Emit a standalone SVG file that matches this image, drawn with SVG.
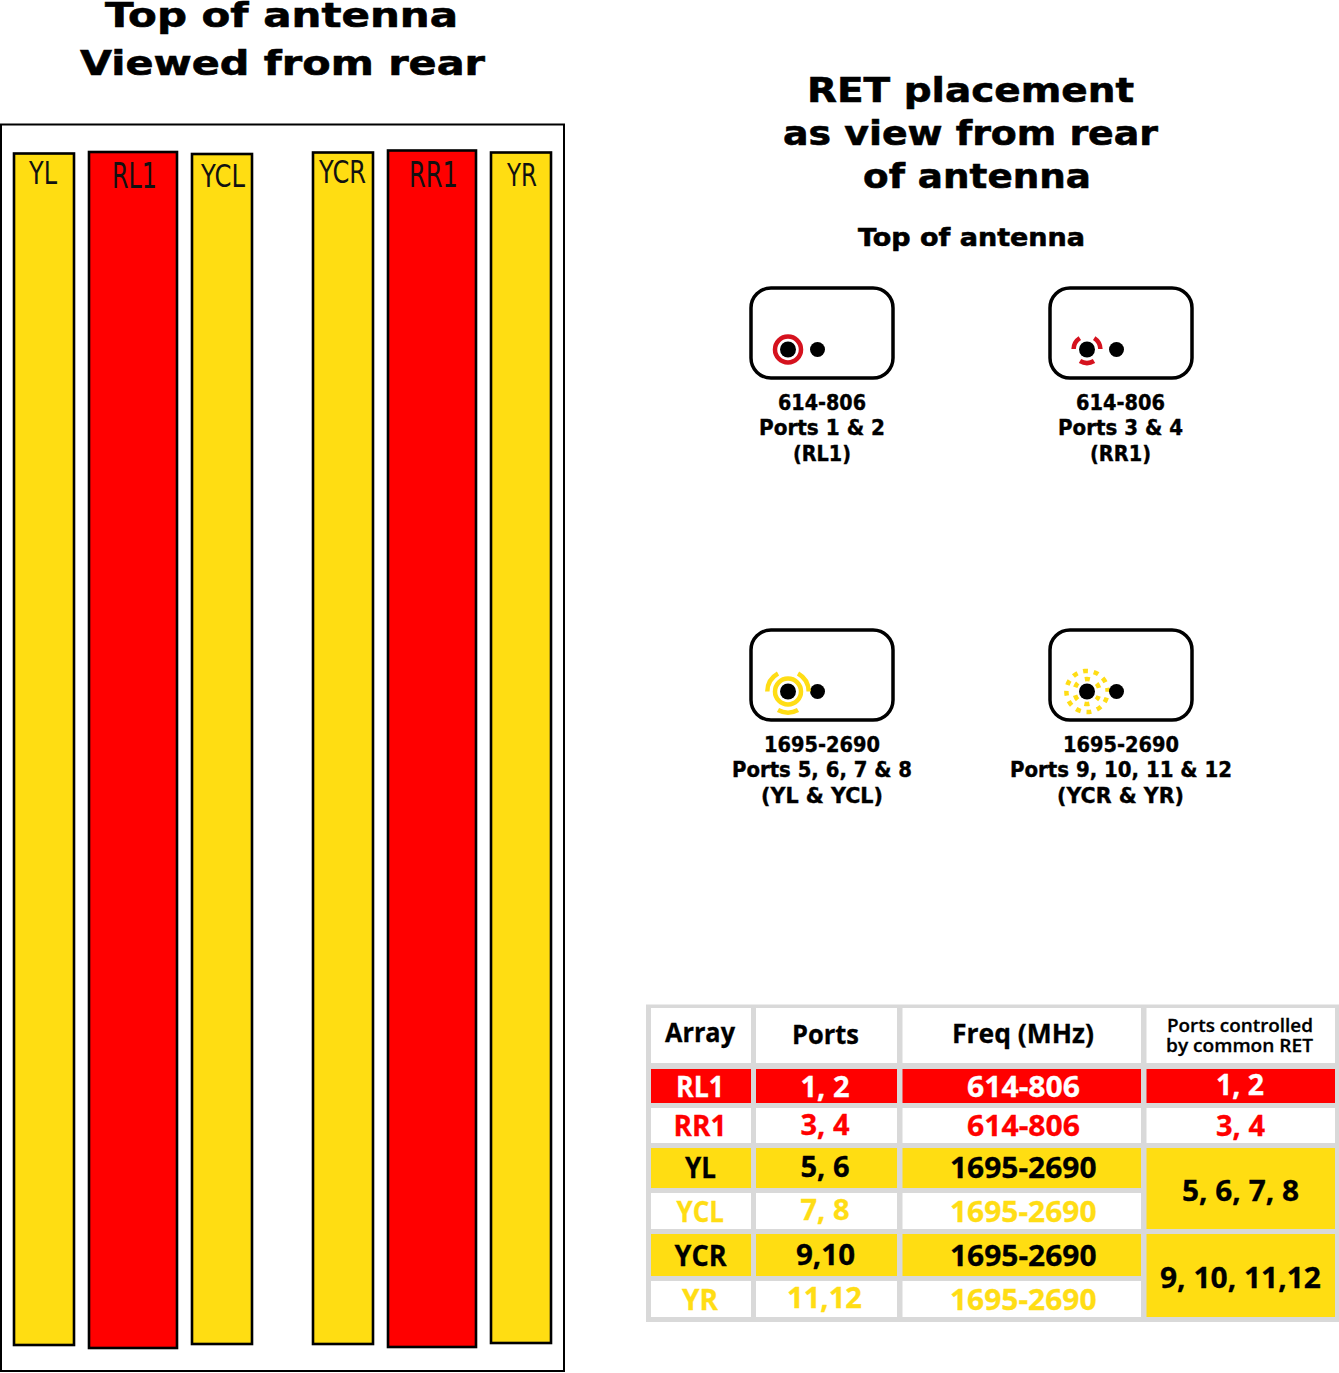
<svg xmlns="http://www.w3.org/2000/svg" width="1339" height="1373" viewBox="0 0 1339 1373">
<style>
text{text-anchor:start}
.h{font-family:"DejaVu Sans",sans-serif;font-weight:700;fill:#000;stroke:#000;stroke-width:.6}
.h1{font-size:34px}.h2{font-size:34px}.h3{font-size:25px}.l{font-size:21px;stroke-width:.4}
.bar{stroke:#000;stroke-width:2.600}
.y{fill:#ffdd12}.r{fill:#f00}.w{fill:#fff}
.bl{font-family:"DejaVu Sans",sans-serif;fill:#111;font-size:32px}
.big{font-size:36px}
.box{fill:#fff;stroke:#000;stroke-width:3.500}
.dot{fill:#000}
.ar{fill:none;stroke-width:4.500}
.rd{stroke:#d5121e}.yl{stroke:#ffdd15}
.t{font-family:"Open Sans","Liberation Sans",sans-serif;font-weight:700;font-size:28px;stroke-width:.3}
.s26{font-size:26px}.s18{font-size:18px;font-weight:600}
.tk{fill:#000;stroke:#000}.tw{fill:#fff;stroke:#fff}.tr{fill:#f00;stroke:#f00}.ty{fill:#ffdd15;stroke:#ffdd15}
</style>
<rect width="1339" height="1373" fill="#fff"/>
<g id="left-title" class="h h1">
<text x="105" y="26.500" textLength="353" lengthAdjust="spacingAndGlyphs">Top of antenna</text>
<text x="80" y="74.500" textLength="405" lengthAdjust="spacingAndGlyphs">Viewed from rear</text>
</g>
<g id="right-title" class="h h2">
<text x="807" y="102" textLength="327" lengthAdjust="spacingAndGlyphs">RET placement</text>
<text x="783" y="145" textLength="375" lengthAdjust="spacingAndGlyphs">as view from rear</text>
<text x="863" y="188" textLength="228" lengthAdjust="spacingAndGlyphs">of antenna</text>
</g>
<text id="right-subtitle" class="h h3" x="858" y="245.500" textLength="227" lengthAdjust="spacingAndGlyphs">Top of antenna</text>
<rect id="frame" x="1" y="124.500" width="563" height="1246.500" fill="#fff" stroke="#000" stroke-width="2"/>
<g id="bar-YL"><rect class="bar y" x="14" y="153.500" width="60" height="1191.500"/><text class="bl" x="29" y="184" textLength="28" lengthAdjust="spacingAndGlyphs">YL</text></g>
<g id="bar-RL1"><rect class="bar r" x="89" y="152" width="88" height="1196"/><text class="bl big" x="112" y="188" textLength="45" lengthAdjust="spacingAndGlyphs">RL1</text></g>
<g id="bar-YCL"><rect class="bar y" x="192" y="154" width="60" height="1190"/><text class="bl" x="201" y="187" textLength="44" lengthAdjust="spacingAndGlyphs">YCL</text></g>
<g id="bar-YCR"><rect class="bar y" x="313" y="152.500" width="60" height="1191.500"/><text class="bl" x="319" y="183" textLength="47" lengthAdjust="spacingAndGlyphs">YCR</text></g>
<g id="bar-RR1"><rect class="bar r" x="388" y="150.500" width="88" height="1196.500"/><text class="bl big" x="409" y="187" textLength="49" lengthAdjust="spacingAndGlyphs">RR1</text></g>
<g id="bar-YR"><rect class="bar y" x="491" y="152.500" width="60" height="1190.500"/><text class="bl" x="507" y="186" textLength="30" lengthAdjust="spacingAndGlyphs">YR</text></g>

<g id="ret-RL1">
<rect class="box" x="751" y="288" width="142" height="90" rx="20"/>
<circle class="dot" cx="788" cy="349.500" r="8"/><circle class="dot" cx="817.500" cy="349.500" r="7.500"/>
<circle class="ar rd" cx="788" cy="349.500" r="13"/>
<g class="h l">
<text x="778" y="410" textLength="88" lengthAdjust="spacingAndGlyphs">614-806</text>
<text x="759" y="435" textLength="126" lengthAdjust="spacingAndGlyphs">Ports 1 &amp; 2</text>
<text x="793" y="461" textLength="58" lengthAdjust="spacingAndGlyphs">(RL1)</text>
</g></g>
<g id="ret-RR1">
<rect class="box" x="1050" y="288" width="142" height="90" rx="20"/>
<circle class="dot" cx="1087" cy="349.500" r="8"/><circle class="dot" cx="1116.500" cy="349.500" r="7.500"/>
<path class="ar rd" d="M1073.600 349A13.500 13.500 0 0 1 1079.800 338.100M1094.200 338.100A13.500 13.500 0 0 1 1100.400 349M1080 361A13.500 13.500 0 0 0 1094 361"/>
<g class="h l">
<text x="1076" y="410" textLength="89" lengthAdjust="spacingAndGlyphs">614-806</text>
<text x="1058" y="435" textLength="125" lengthAdjust="spacingAndGlyphs">Ports 3 &amp; 4</text>
<text x="1090" y="461" textLength="61" lengthAdjust="spacingAndGlyphs">(RR1)</text>
</g></g>
<g id="ret-YL-YCL">
<rect class="box" x="751" y="630" width="142" height="90" rx="20"/>
<circle class="dot" cx="788" cy="691.500" r="8"/><circle class="dot" cx="817.500" cy="691.500" r="7.500"/>
<circle class="ar yl" cx="788" cy="691.500" r="13"/>
<path class="ar yl" d="M767.300 691.500A21 21 0 0 1 778 673.500M798 673.500A21 21 0 0 1 808.700 691.500M778 710A21 21 0 0 0 798 710"/>
<g class="h l">
<text x="764" y="752" textLength="116" lengthAdjust="spacingAndGlyphs">1695-2690</text>
<text x="732" y="777" textLength="180" lengthAdjust="spacingAndGlyphs">Ports 5, 6, 7 &amp; 8</text>
<text x="761" y="803" textLength="122" lengthAdjust="spacingAndGlyphs">(YL &amp; YCL)</text>
</g></g>
<g id="ret-YCR-YR">
<rect class="box" x="1050" y="630" width="142" height="90" rx="20"/>
<circle class="ar yl" cx="1087" cy="691.500" r="12.500" stroke-dasharray="5 8.090" stroke-dashoffset="2.500" transform="rotate(30 1087 691.500)"/>
<circle class="ar yl" cx="1087" cy="691.500" r="20.600" stroke-dasharray="5 5.790" stroke-dashoffset="2.500" transform="rotate(-6 1087 691.500)"/>
<circle class="dot" cx="1087" cy="691.500" r="8"/><circle class="dot" cx="1116.500" cy="691.500" r="7.500"/>
<g class="h l">
<text x="1063" y="752" textLength="116" lengthAdjust="spacingAndGlyphs">1695-2690</text>
<text x="1010" y="777" textLength="222" lengthAdjust="spacingAndGlyphs">Ports 9, 10, 11 &amp; 12</text>
<text x="1057" y="803" textLength="127" lengthAdjust="spacingAndGlyphs">(YCR &amp; YR)</text>
</g></g>

<g id="table">
<rect x="646" y="1004.500" width="693" height="317.500" fill="#d9d9d9"/>
<g id="row-header">
<rect class="w" x="651" y="1008" width="100" height="55"/><rect class="w" x="756" y="1008" width="141" height="55"/><rect class="w" x="902.500" y="1008" width="238.500" height="55"/><rect class="w" x="1146.500" y="1008" width="188.500" height="55"/>
<text class="t s26 tk" x="665" y="1042" textLength="70" lengthAdjust="spacingAndGlyphs">Array</text>
<text class="t s26 tk" x="792" y="1044" textLength="67" lengthAdjust="spacingAndGlyphs">Ports</text>
<text class="t s26 tk" x="952" y="1043" textLength="142" lengthAdjust="spacingAndGlyphs">Freq (MHz)</text>
<text class="t s18 tk" x="1167" y="1032" textLength="146" lengthAdjust="spacingAndGlyphs">Ports controlled</text>
<text class="t s18 tk" x="1166" y="1052" textLength="147" lengthAdjust="spacingAndGlyphs">by common RET</text>
</g>
<g id="row-RL1">
<rect class="r" x="651" y="1069" width="100" height="34"/><rect class="r" x="756" y="1069" width="141" height="34"/><rect class="r" x="902.500" y="1069" width="238.500" height="34"/><rect class="r" x="1146.500" y="1069" width="188.500" height="34"/>
<text class="t tw" x="676" y="1096.500" textLength="48" lengthAdjust="spacingAndGlyphs">RL1</text>
<text class="t tw" x="800.500" y="1096.500" textLength="49" lengthAdjust="spacingAndGlyphs">1, 2</text>
<text class="t tw" x="967" y="1096.500" textLength="113" lengthAdjust="spacingAndGlyphs">614-806</text>
<text class="t tw" x="1216" y="1094.500" textLength="48" lengthAdjust="spacingAndGlyphs">1, 2</text>
</g>
<g id="row-RR1">
<rect class="w" x="651" y="1108" width="100" height="35"/><rect class="w" x="756" y="1108" width="141" height="35"/><rect class="w" x="902.500" y="1108" width="238.500" height="35"/><rect class="w" x="1146.500" y="1108" width="188.500" height="35"/>
<text class="t tr" x="673.500" y="1135.500" textLength="53" lengthAdjust="spacingAndGlyphs">RR1</text>
<text class="t tr" x="800.500" y="1134.500" textLength="49" lengthAdjust="spacingAndGlyphs">3, 4</text>
<text class="t tr" x="967" y="1135.500" textLength="113" lengthAdjust="spacingAndGlyphs">614-806</text>
<text class="t tr" x="1216" y="1135.500" textLength="49" lengthAdjust="spacingAndGlyphs">3, 4</text>
</g>
<g id="row-YL">
<rect class="y" x="651" y="1148" width="100" height="40"/><rect class="y" x="756" y="1148" width="141" height="40"/><rect class="y" x="902.500" y="1148" width="238.500" height="40"/>
<text class="t tk" x="685" y="1177.500" textLength="31" lengthAdjust="spacingAndGlyphs">YL</text>
<text class="t tk" x="800.500" y="1176.500" textLength="49" lengthAdjust="spacingAndGlyphs">5, 6</text>
<text class="t tk" x="950" y="1177.500" textLength="146.500" lengthAdjust="spacingAndGlyphs">1695-2690</text>
</g>
<g id="row-YCL">
<rect class="w" x="651" y="1193" width="100" height="36"/><rect class="w" x="756" y="1193" width="141" height="36"/><rect class="w" x="902.500" y="1193" width="238.500" height="36"/>
<text class="t ty" x="676.500" y="1221.500" textLength="47.500" lengthAdjust="spacingAndGlyphs">YCL</text>
<text class="t ty" x="800.500" y="1219.500" textLength="49" lengthAdjust="spacingAndGlyphs">7, 8</text>
<text class="t ty" x="950" y="1221.500" textLength="146.500" lengthAdjust="spacingAndGlyphs">1695-2690</text>
</g>
<g id="row-YCR">
<rect class="y" x="651" y="1234" width="100" height="42"/><rect class="y" x="756" y="1234" width="141" height="42"/><rect class="y" x="902.500" y="1234" width="238.500" height="42"/>
<text class="t tk" x="674.500" y="1265.500" textLength="52" lengthAdjust="spacingAndGlyphs">YCR</text>
<text class="t tk" x="796" y="1264.500" textLength="59" lengthAdjust="spacingAndGlyphs">9,10</text>
<text class="t tk" x="950" y="1265.500" textLength="146.500" lengthAdjust="spacingAndGlyphs">1695-2690</text>
</g>
<g id="row-YR">
<rect class="w" x="651" y="1281" width="100" height="36"/><rect class="w" x="756" y="1281" width="141" height="36"/><rect class="w" x="902.500" y="1281" width="238.500" height="36"/>
<text class="t ty" x="682" y="1309.500" textLength="36" lengthAdjust="spacingAndGlyphs">YR</text>
<text class="t ty" x="787" y="1307.500" textLength="75" lengthAdjust="spacingAndGlyphs">11,12</text>
<text class="t ty" x="950" y="1309.500" textLength="146.500" lengthAdjust="spacingAndGlyphs">1695-2690</text>
</g>
<g id="ret-groups">
<rect class="y" x="1146.500" y="1148" width="188.500" height="81"/>
<text class="t tk" x="1182" y="1200.500" textLength="117" lengthAdjust="spacingAndGlyphs">5, 6, 7, 8</text>
<rect class="y" x="1146.500" y="1234" width="188.500" height="83"/>
<text class="t tk" x="1160" y="1287.500" textLength="161" lengthAdjust="spacingAndGlyphs">9, 10, 11,12</text>
</g>
</g>
</svg>
